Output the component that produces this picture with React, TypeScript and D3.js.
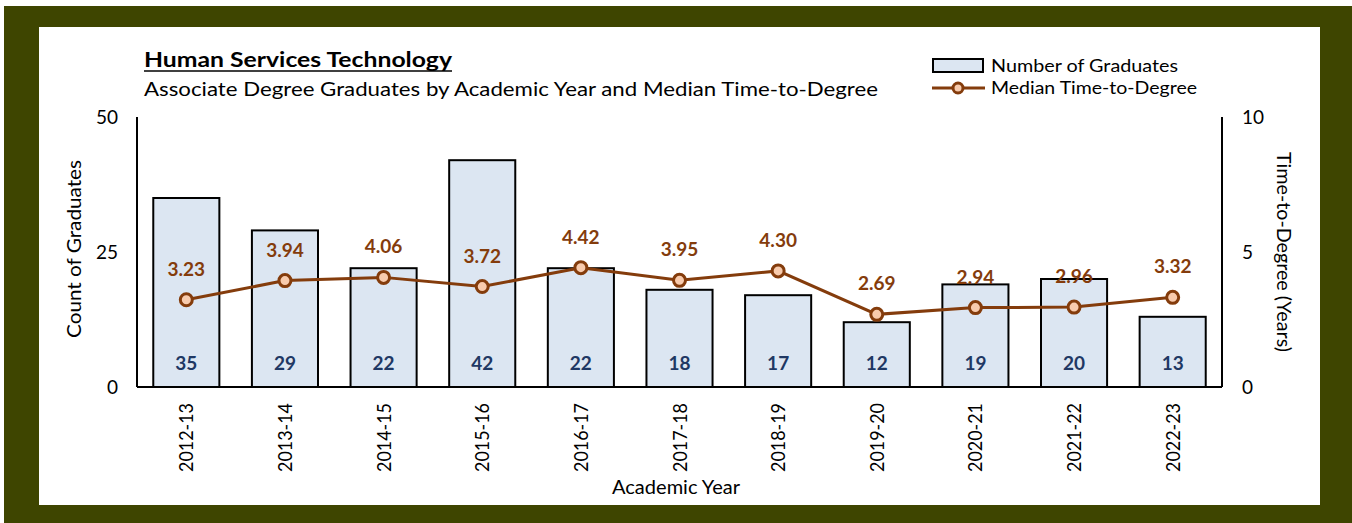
import React from "react";
import * as d3 from "d3";

const years = ["2012-13","2013-14","2014-15","2015-16","2016-17","2017-18","2018-19","2019-20","2020-21","2021-22","2022-23"];
const graduates = [35,29,22,42,22,18,17,12,19,20,13];
const medianTime = [3.23,3.94,4.06,3.72,4.42,3.95,4.30,2.69,2.94,2.96,3.32];
const leftTicks = [0,25,50];
const rightTicks = [0,5,10];

const W = 1352, H = 523;
const plot = { left: 137, right: 1222, top: 117, bottom: 387 };
const FONT = "Lato, 'Open Sans', sans-serif";
const BROWN = "#843c0c";
const NAVY = "#1f3864";

export default function App() {
  const x = d3.scaleBand().domain(years).range([plot.left, plot.right]).paddingInner(0.33).paddingOuter(0.165);
  const yL = d3.scaleLinear().domain([0, 50]).range([plot.bottom, plot.top]);
  const yR = d3.scaleLinear().domain([0, 10]).range([plot.bottom, plot.top]);
  const cx = (d: string) => (x(d) as number) + x.bandwidth() / 2;
  const line = d3.line<number>().x((_, i) => cx(years[i])).y((v) => yR(v));

  return (
    <svg width={W} height={H} style={{ position: "absolute", left: 0, top: 0 }} fontFamily={FONT}>
      <rect x={4} y={6} width={W - 4} height={H - 6} fill="#3e4500" />
      <rect x={39} y={27} width={1281} height={478} fill="#ffffff" />

      {/* title */}
      <text x={144} y={67} fontSize={21.5} fontWeight={700} fill="#000" textLength={308} lengthAdjust="spacingAndGlyphs">Human Services Technology</text>
      <line x1={144} x2={452} y1={71} y2={71} stroke="#000" strokeWidth={1.6} />
      <text x={144} y={96} fontSize={19.5} fill="#000" textLength={734} lengthAdjust="spacingAndGlyphs">Associate Degree Graduates by Academic Year and Median Time-to-Degree</text>

      {/* legend */}
      <rect x={933} y={59} width={50} height={13} fill="#dce6f2" stroke="#000" strokeWidth={2} />
      <text x={991} y={72} fontSize={18} fill="#000" textLength={187} lengthAdjust="spacingAndGlyphs">Number of Graduates</text>
      <line x1={932} x2={985} y1={88} y2={88} stroke={BROWN} strokeWidth={3} />
      <circle cx={958} cy={88} r={5} fill="#f8cbad" stroke={BROWN} strokeWidth={3} />
      <text x={991} y={94} fontSize={18} fill="#000" textLength={206} lengthAdjust="spacingAndGlyphs">Median Time-to-Degree</text>

      {/* bars */}
      {graduates.map((v, i) => (
        <rect key={"b" + i} x={x(years[i])} y={yL(v)} width={x.bandwidth()} height={plot.bottom - yL(v)} fill="#dce6f2" stroke="#000" strokeWidth={2} />
      ))}
      {graduates.map((v, i) => (
        <text key={"bl" + i} x={cx(years[i])} y={370} textAnchor="middle" fontSize={19} fontWeight={700} fill={NAVY}>{v}</text>
      ))}

      {/* axes */}
      <line x1={plot.left} x2={plot.left} y1={plot.top} y2={plot.bottom} stroke="#000" strokeWidth={2} />
      <line x1={plot.right} x2={plot.right} y1={plot.top} y2={plot.bottom} stroke="#000" strokeWidth={2} />
      <line x1={plot.left} x2={plot.right} y1={plot.bottom} y2={plot.bottom} stroke="#000" strokeWidth={2} />
      {leftTicks.map((t) => (
        <text key={"lt" + t} x={118} y={yL(t) + 7} textAnchor="end" fontSize={19} fill="#000">{t}</text>
      ))}
      {rightTicks.map((t) => (
        <text key={"rt" + t} x={1242} y={yR(t) + 7} textAnchor="start" fontSize={19} fill="#000">{t}</text>
      ))}
      {years.map((y) => (
        <text key={"xt" + y} transform={`translate(${cx(y) + 7},403) rotate(-90)`} textAnchor="end" fontSize={18.5} fill="#000" textLength={69} lengthAdjust="spacingAndGlyphs">{y}</text>
      ))}
      <text x={612} y={494} fontSize={18.5} fill="#000" textLength={128} lengthAdjust="spacingAndGlyphs">Academic Year</text>
      <text transform={`translate(81,338) rotate(-90)`} fontSize={18.5} fill="#000" textLength={178} lengthAdjust="spacingAndGlyphs">Count of Graduates</text>
      <text transform={`translate(1277,152) rotate(90)`} fontSize={18.5} fill="#000" textLength={200} lengthAdjust="spacingAndGlyphs">Time-to-Degree (Years)</text>

      {/* line */}
      <path d={line(medianTime) || ""} fill="none" stroke={BROWN} strokeWidth={3} />
      {medianTime.map((v, i) => (
        <circle key={"c" + i} cx={cx(years[i])} cy={yR(v)} r={6} fill="#f8cbad" stroke={BROWN} strokeWidth={3} />
      ))}
      {medianTime.map((v, i) => (
        <text key={"cl" + i} x={cx(years[i])} y={yR(v) - 24} textAnchor="middle" fontSize={19} fontWeight={700} fill={BROWN}>{v.toFixed(2)}</text>
      ))}
    </svg>
  );
}
